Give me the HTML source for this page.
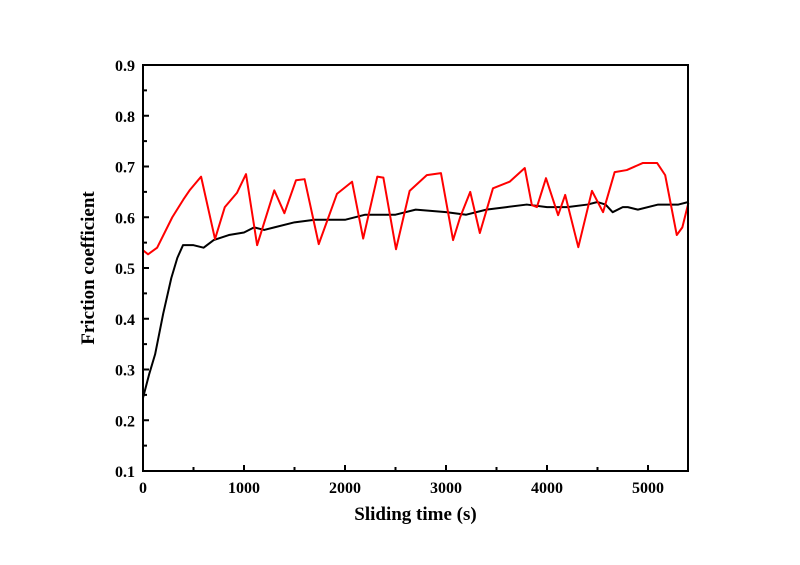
<!DOCTYPE html>
<html><head><meta charset="utf-8"><style>
body{margin:0;background:#fff;}
svg{display:block;font-family:"Liberation Serif",serif;font-weight:bold;}
</style></head><body>
<svg id="chart" width="800" height="565" viewBox="0 0 800 565"></svg>
<script>
const xTicks=[0,1000,2000,3000,4000,5000];
const yTicks=[0.1,0.2,0.3,0.4,0.5,0.6,0.7,0.8,0.9];
const blackT=[0,60,120,200,280,340,396,500,600,700,850,1000,1100,1200,1300,1500,1700,2000,2200,2500,2700,3000,3200,3400,3600,3800,4000,4200,4400,4500,4580,4650,4750,4800,4900,5100,5300,5400];
const blackV=[0.244,0.29,0.33,0.41,0.48,0.52,0.545,0.545,0.54,0.555,0.565,0.57,0.58,0.575,0.58,0.59,0.595,0.595,0.605,0.605,0.615,0.61,0.605,0.615,0.62,0.625,0.62,0.62,0.625,0.63,0.625,0.61,0.62,0.62,0.615,0.625,0.625,0.63];
const redT=[0,50,140,290,400,465,575,713,810,930,1020,1130,1300,1400,1515,1600,1740,1920,2070,2180,2320,2380,2505,2640,2810,2950,3070,3140,3240,3335,3465,3630,3780,3850,3900,3990,4110,4180,4310,4445,4555,4670,4790,4950,5090,5170,5285,5340,5400];
const redV=[0.535,0.527,0.54,0.6,0.635,0.654,0.68,0.557,0.62,0.648,0.685,0.545,0.653,0.608,0.673,0.675,0.547,0.646,0.67,0.558,0.68,0.678,0.537,0.652,0.683,0.687,0.555,0.6,0.65,0.569,0.657,0.67,0.697,0.624,0.62,0.677,0.604,0.644,0.541,0.652,0.61,0.689,0.693,0.707,0.707,0.683,0.565,0.58,0.628];
const L=143,R=688,T=65,B=471;
const X=t=>L+t*0.101;
const Y=v=>B-(v-0.1)/0.8*(B-T);
const svg=document.getElementById('chart');
const NS='http://www.w3.org/2000/svg';
function mk(tag,attrs,parent){const e=document.createElementNS(NS,tag);for(const k in attrs)e.setAttribute(k,attrs[k]);(parent||svg).appendChild(e);return e;}
function line(pts,color,name){
 const p=mk('polyline',{points:pts,fill:'none',stroke:color,'stroke-width':2,'stroke-linejoin':'round'});
 
 
}
line(blackT.map((t,i)=>X(t)+','+Y(blackV[i])).join(' '),'#000','series-black');
line(redT.map((t,i)=>X(t)+','+Y(redV[i])).join(' '),'#f00','series-red');
const frame=mk('rect',{x:L,y:T,width:R-L,height:B-T,fill:'none',stroke:'#000','stroke-width':2});


xTicks.forEach(t=>{
 mk('line',{x1:X(t),x2:X(t),y1:B,y2:B-6,stroke:'#000','stroke-width':2});
 if(t+500<=5400)mk('line',{x1:X(t+500),x2:X(t+500),y1:B,y2:B-4,stroke:'#000','stroke-width':2});
 const tx=mk('text',{x:X(t),y:B+22,'text-anchor':'middle','font-size':16});
 tx.textContent=t;
 
 
});
yTicks.forEach(v=>{
 mk('line',{x1:L,x2:L+6,y1:Y(v),y2:Y(v),stroke:'#000','stroke-width':2});
 if(v<0.85)mk('line',{x1:L,x2:L+4,y1:Y(v+0.05),y2:Y(v+0.05),stroke:'#000','stroke-width':2});
 const tx=mk('text',{x:L-8,y:Y(v)+6,'text-anchor':'end','font-size':16});
 tx.textContent=v.toFixed(1);
 
 
});
const xt=mk('text',{x:(L+R)/2,y:520,'text-anchor':'middle','font-size':19});
xt.textContent='Sliding time (s)';


const yt=mk('text',{x:0,y:0,'text-anchor':'middle','font-size':19,transform:'translate(94,268) rotate(-90)'});
yt.textContent='Friction coefficient';


</script>
</body></html>
